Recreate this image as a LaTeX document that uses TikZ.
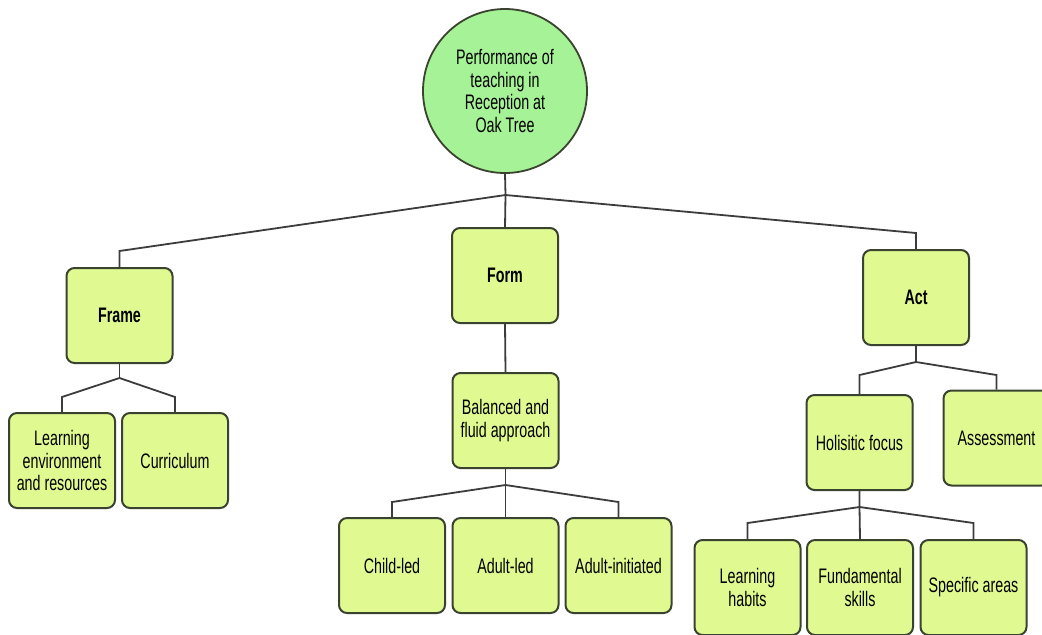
\documentclass[tikz,border=0pt]{standalone}
\usepackage{fontspec}
\setmainfont{Liberation Sans}[FakeStretch=0.68]
\usepackage{tikz}
\usetikzlibrary{positioning}
\definecolor{boxfill}{RGB}{224,250,145}
\definecolor{rootfill}{RGB}{166,242,150}
\definecolor{edgedark}{RGB}{58,66,48}
\definecolor{linkgray}{RGB}{60,60,60}
\tikzset{
  tbox/.style={draw=edgedark, fill=boxfill, line width=1pt, rounded corners=4pt,
    minimum width=53pt, minimum height=47.5pt, align=center, inner sep=1pt,
    font=\fontsize{10.5}{11.3}\selectfont},
  troot/.style={circle, draw=edgedark, fill=rootfill, line width=0.9pt,
    minimum size=82pt, align=center, inner sep=0pt,
    font=\fontsize{10.5}{11.3}\selectfont},
  tline/.style={linkgray, line width=0.9pt},
}

\begin{document}
\begin{tikzpicture}[x=0.5pt,y=-0.5pt]
\clip (0,0) rectangle (1042,634);
\fill[white] (0,0) rectangle (1042,634);

% root and first level
\node[troot] (root) at (505,91) {Performance of\\teaching in\\Reception at\\Oak Tree};
\node[tbox] (frame) at (119.5,315.5) {\textbf{Frame}};
\node[tbox] (form)  at (505,275.5)   {\textbf{Form}};
\node[tbox] (act)   at (916,297.5)   {\textbf{Act}};

% under Frame
\node[tbox] (learnenv) at (62,460.5)  {Learning\\environment\\and resources};
\node[tbox] (curric)   at (175,460.5) {Curriculum};

% under Form
\node[tbox] (balanced)  at (505.5,420.5) {Balanced and\\fluid approach};
\node[tbox] (childled)  at (392,565.5)   {Child-led};
\node[tbox] (adultled)  at (505.5,565.5) {Adult-led};
\node[tbox] (adultinit) at (618.5,565.5) {Adult-initiated};

% under Act
\node[tbox] (holistic) at (859.5,442.5) {Holisitic focus};
\node[tbox] (assess)   at (996.5,438)   {Assessment};
\node[tbox] (habits)   at (747.5,587.5) {Learning\\habits};
\node[tbox] (fundam)   at (860,587.5)   {Fundamental\\skills};
\node[tbox] (specific) at (973.5,587.5) {Specific areas};

% branch points
\coordinate (jroot) at (505.5,195);
\coordinate (kframe) at (119.5,251);
\coordinate (kact) at (916,233);
\coordinate (jframe) at (119.5,378);
\coordinate (kenv) at (62,397);
\coordinate (kcur) at (175,397);
\coordinate (jbal) at (505.5,485);
\coordinate (kchild) at (392,502);
\coordinate (kinit) at (618.5,502);
\coordinate (jact) at (916,362);
\coordinate (khol) at (859.5,375);
\coordinate (kass) at (996.5,375);
\coordinate (jhol) at (859.5,507);
\coordinate (khab) at (747.5,523);
\coordinate (kspec) at (973.5,523);

\draw[tline] (root.south) -- (jroot) -- (form.north);
\draw[tline] (jroot) -- (kframe) -- (frame.north);
\draw[tline] (jroot) -- (kact) -- (act.north);

\draw[tline] (frame.south) -- (jframe);
\draw[tline] (jframe) -- (kenv) -- (learnenv.north);
\draw[tline] (jframe) -- (kcur) -- (curric.north);

\draw[tline] (form.south) -- (balanced.north);
\draw[tline] (balanced.south) -- (jbal) -- (adultled.north);
\draw[tline] (jbal) -- (kchild) -- (childled.north);
\draw[tline] (jbal) -- (kinit) -- (adultinit.north);

\draw[tline] (act.south) -- (jact);
\draw[tline] (jact) -- (khol) -- (holistic.north);
\draw[tline] (jact) -- (kass) -- (assess.north);
\draw[tline] (holistic.south) -- (jhol) -- (fundam.north);
\draw[tline] (jhol) -- (khab) -- (habits.north);
\draw[tline] (jhol) -- (kspec) -- (specific.north);
\end{tikzpicture}
\end{document}
